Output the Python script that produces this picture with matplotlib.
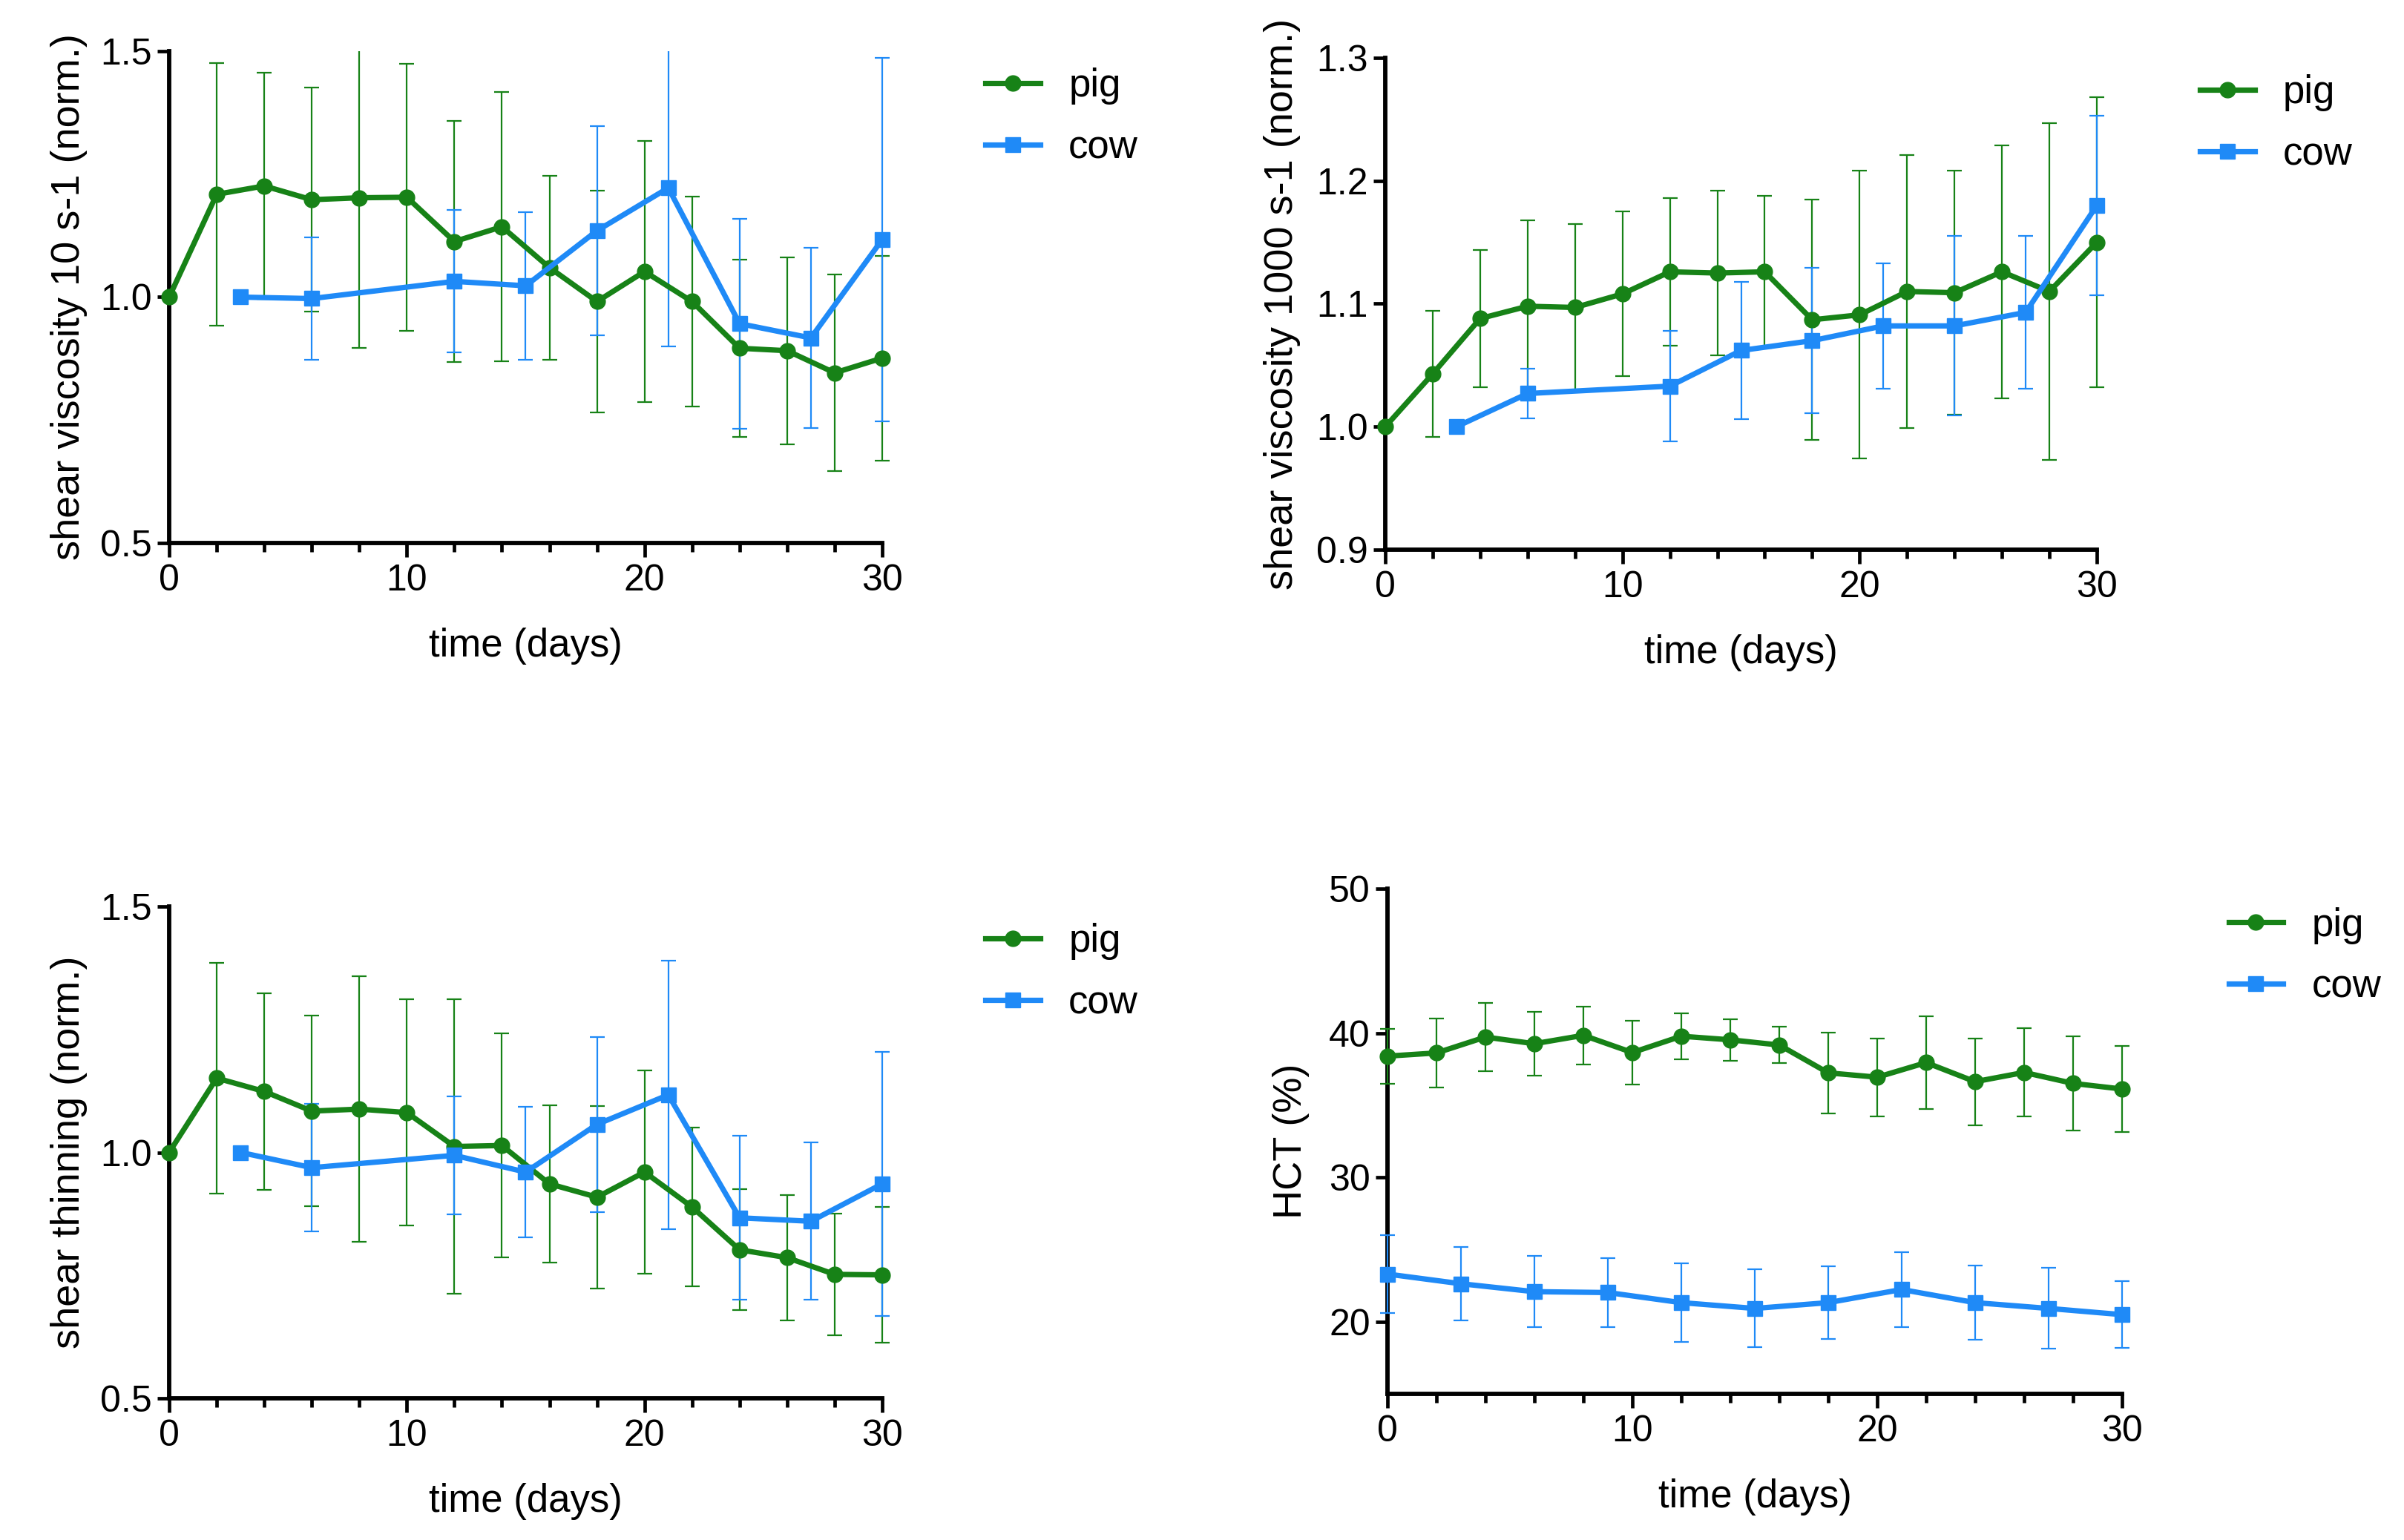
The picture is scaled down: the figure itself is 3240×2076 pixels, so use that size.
import matplotlib

matplotlib.use("Agg")
import matplotlib.pyplot as plt
from matplotlib.lines import Line2D
from matplotlib.ticker import FixedLocator, MultipleLocator, FormatStrFormatter
from matplotlib.transforms import Bbox, TransformedBbox

WIDTH = 3241
HEIGHT = 2076
DPI = 100

GREEN = "#178217"
BLUE = "#1f8af7"

plt.rcParams["font.family"] = ["Liberation Sans", "DejaVu Sans"]

# sampling days
PIG_DAYS = [0, 2, 4, 6, 8, 10, 12, 14, 16, 18, 20, 22, 24, 26, 28, 30]
COW_DAYS = [3, 6, 12, 15, 18, 21, 24, 27, 30]
COW_DAYS_HCT = [0, 3, 6, 9, 12, 15, 18, 21, 24, 27, 30]

# shear viscosity at 10 s-1 (normalised)
VISC10_PIG = [1.0, 1.209, 1.226, 1.198, 1.202, 1.203, 1.113, 1.143, 1.06, 0.991, 1.052, 0.991, 0.896, 0.891, 0.846, 0.876]
VISC10_PIG_SD = [0, 0.267, 0.23, 0.228, 0.306, 0.272, 0.245, 0.274, 0.187, 0.226, 0.265, 0.213, 0.18, 0.19, 0.2, 0.208]
VISC10_COW = [1.0, 0.997, 1.032, 1.023, 1.135, 1.222, 0.946, 0.917, 1.117]
VISC10_COW_SD = [0, 0.125, 0.145, 0.15, 0.213, 0.322, 0.213, 0.183, 0.37]

# shear viscosity at 1000 s-1 (normalised)
VISC1000_PIG = [1.0, 1.043, 1.088, 1.098, 1.097, 1.108, 1.126, 1.125, 1.126, 1.087, 1.091, 1.110, 1.109, 1.126, 1.110, 1.150]
VISC1000_PIG_SD = [0, 0.051, 0.056, 0.07, 0.068, 0.067, 0.06, 0.067, 0.062, 0.098, 0.117, 0.111, 0.099, 0.103, 0.137, 0.118]
VISC1000_COW = [1.0, 1.027, 1.033, 1.062, 1.070, 1.082, 1.082, 1.093, 1.180]
VISC1000_COW_SD = [0, 0.02, 0.045, 0.056, 0.059, 0.051, 0.073, 0.062, 0.073]

# shear thinning (normalised)
THIN_PIG = [1.0, 1.151, 1.124, 1.084, 1.088, 1.081, 1.012, 1.014, 0.936, 0.909, 0.960, 0.889, 0.802, 0.786, 0.752, 0.751]
THIN_PIG_SD = [0, 0.234, 0.2, 0.194, 0.27, 0.23, 0.3, 0.228, 0.16, 0.186, 0.207, 0.162, 0.123, 0.128, 0.124, 0.138]
THIN_COW = [1.0, 0.969, 0.994, 0.96, 1.057, 1.117, 0.867, 0.86, 0.936]
THIN_COW_SD = [0, 0.13, 0.12, 0.133, 0.178, 0.273, 0.167, 0.16, 0.268]

# haematocrit (%)
HCT_PIG = [38.40, 38.62, 39.72, 39.26, 39.84, 38.65, 39.78, 39.53, 39.17, 37.24, 36.94, 37.95, 36.63, 37.27, 36.51, 36.12]
HCT_PIG_SD = [1.9, 2.4, 2.35, 2.2, 2.0, 2.2, 1.6, 1.45, 1.27, 2.8, 2.7, 3.2, 3.0, 3.05, 3.25, 2.97]
HCT_COW = [23.30, 22.63, 22.08, 22.02, 21.32, 20.92, 21.32, 22.23, 21.32, 20.92, 20.49]
HCT_COW_SD = [2.72, 2.56, 2.47, 2.4, 2.7, 2.7, 2.5, 2.6, 2.56, 2.8, 2.3]

# (left, right, top, bottom) in pixels
PANELS = [
    (228, 1189, 69, 732),
    (1867, 2826, 78, 741),
    (228, 1189, 1222, 1885),
    (1870, 2860, 1198, 1879),
]


def px_axes(fig, box):
    left, right, top, bottom = box
    return fig.add_axes([left / WIDTH, 1 - bottom / HEIGHT, (right - left) / WIDTH, (bottom - top) / HEIGHT])


def draw_series(ax, x, y, sd, color, marker, label):
    eb = ax.errorbar(x, y, yerr=sd, fmt="none", ecolor=color, elinewidth=1.6,
                     capsize=7, capthick=1.6, zorder=2.9)
    clip = TransformedBbox(Bbox([[-0.05, 0], [1.05, 1]]), ax.transAxes)
    for art in eb.lines[1] + eb.lines[2]:
        art.set_clip_box(clip)
    ax.plot(x, y, color=color, lw=5.2, marker=marker, ms=15, label=label,
            clip_on=False, zorder=3)


def style_axes(ax, ylim, yticks, fmt, ylabel, ylabel_x):
    ax.set_xlim(0, 30)
    ax.set_ylim(*ylim)
    for side in ("top", "right"):
        ax.spines[side].set_visible(False)
    for side in ("left", "bottom"):
        ax.spines[side].set_linewidth(4.2)
    ax.xaxis.set_major_locator(FixedLocator([0, 10, 20, 30]))
    ax.xaxis.set_minor_locator(MultipleLocator(2))
    ax.yaxis.set_major_locator(FixedLocator(yticks))
    ax.yaxis.set_major_formatter(FormatStrFormatter(fmt))
    ax.tick_params(axis="x", which="major", length=14, width=3.4, pad=6, labelsize=36)
    ax.tick_params(axis="x", which="minor", length=8.5, width=3.4)
    ax.tick_params(axis="y", which="major", length=11.5, width=3.4, pad=5, labelsize=36)

    h = ax.get_position().height * HEIGHT
    w = ax.get_position().width * WIDTH
    ax.set_xlabel("time (days)", fontsize=38, va="center")
    ax.xaxis.set_label_coords(0.5, -139 / h)
    ax.set_ylabel(ylabel, fontsize=39, va="center")
    ax.yaxis.set_label_coords(-ylabel_x / w, 0.5)

    handles = [
        Line2D([], [], color=GREEN, lw=5.2, marker="o", ms=15),
        Line2D([], [], color=BLUE, lw=5.2, marker="s", ms=15),
    ]
    ax.legend(handles, ["pig", "cow"], loc="center left", bbox_to_anchor=(1.145, 0.866),
              frameon=False, fontsize=38, borderpad=0, borderaxespad=0, handlelength=1.4,
              handletextpad=0.72, labelspacing=0.62, numpoints=1)


def main():
    fig = plt.figure(figsize=(WIDTH / DPI, HEIGHT / DPI), dpi=DPI, facecolor="white")

    ax = px_axes(fig, PANELS[0])
    draw_series(ax, PIG_DAYS, VISC10_PIG, VISC10_PIG_SD, GREEN, "o", "pig")
    draw_series(ax, COW_DAYS, VISC10_COW, VISC10_COW_SD, BLUE, "s", "cow")
    style_axes(ax, (0.5, 1.5), [0.5, 1.0, 1.5], "%.1f", "shear viscosity 10 s-1 (norm.)", 135)

    ax = px_axes(fig, PANELS[1])
    draw_series(ax, PIG_DAYS, VISC1000_PIG, VISC1000_PIG_SD, GREEN, "o", "pig")
    draw_series(ax, COW_DAYS, VISC1000_COW, VISC1000_COW_SD, BLUE, "s", "cow")
    style_axes(ax, (0.9, 1.3), [0.9, 1.0, 1.1, 1.2, 1.3], "%.1f", "shear viscosity 1000 s-1 (norm.)", 139)

    ax = px_axes(fig, PANELS[2])
    draw_series(ax, PIG_DAYS, THIN_PIG, THIN_PIG_SD, GREEN, "o", "pig")
    draw_series(ax, COW_DAYS, THIN_COW, THIN_COW_SD, BLUE, "s", "cow")
    style_axes(ax, (0.5, 1.5), [0.5, 1.0, 1.5], "%.1f", "shear thinning (norm.)", 135)

    ax = px_axes(fig, PANELS[3])
    draw_series(ax, PIG_DAYS, HCT_PIG, HCT_PIG_SD, GREEN, "o", "pig")
    draw_series(ax, COW_DAYS_HCT, HCT_COW, HCT_COW_SD, BLUE, "s", "cow")
    style_axes(ax, (15, 50), [20, 30, 40, 50], "%d", "HCT (%)", 130)

    fig.savefig("out.png", dpi=DPI, facecolor="white")
    plt.close(fig)


if __name__ == "__main__":
    main()
